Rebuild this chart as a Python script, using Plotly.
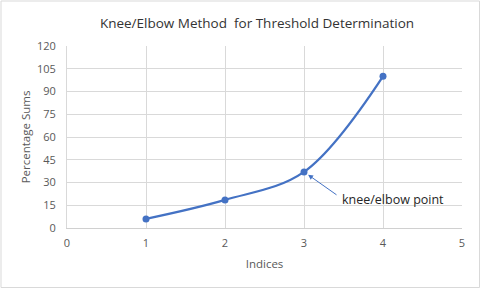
import plotly.graph_objects as go

indices = [1, 2, 3, 4]
percentage_sums = [6, 18.5, 37, 100]
x_ticks = [0, 1, 2, 3, 4, 5]
y_ticks = [0, 15, 30, 45, 60, 75, 90, 105, 120]
knee_index = 3
knee_value = 37

W, H = 481, 289
L, R, T, B = 67, 19, 46, 61
pw, ph = W - L - R, H - T - B

fig = go.Figure()
fig.add_trace(go.Scatter(
    x=indices, y=percentage_sums, mode="lines+markers",
    line=dict(color="#4472C4", width=2.25, shape="spline", smoothing=1.0),
    marker=dict(color="#4472C4", size=7),
    showlegend=False, hoverinfo="skip", cliponaxis=False))

font = "Open Sans, Liberation Sans, sans-serif"
fig.update_layout(
    width=W, height=H,
    margin=dict(l=L, r=R, t=T, b=B, autoexpand=False),
    paper_bgcolor="white", plot_bgcolor="white",
    title=dict(text="Knee/Elbow Method  for Threshold Determination",
               x=257 / W, xanchor="center", y=1 - 23 / H, yanchor="middle",
               font=dict(family=font, size=13.5, color="#333333")),
    font=dict(family=font, size=11, color="#595959"),
    xaxis=dict(range=[0, 5], tickvals=x_ticks, showgrid=True, gridcolor="#D9D9D9",
               gridwidth=1, zeroline=False, showline=True, linecolor="#D0D0D0",
               ticks="", ticklen=0, automargin=False, ticklabelstandoff=5,
               tickfont=dict(size=11, color="#595959"),
               title=dict(text="Indices", font=dict(size=11.5, color="#595959"), standoff=10)),
    yaxis=dict(range=[0, 120], tickvals=y_ticks, showgrid=True, gridcolor="#D9D9D9",
               gridwidth=1, zeroline=False, showline=True, linecolor="#D9D9D9",
               ticks="", automargin=False, ticklabelstandoff=8,
               tickfont=dict(size=11, color="#595959"),
               title=dict(text="Percentage Sums", font=dict(size=11.5, color="#595959"), standoff=3)),
)

# arrow only
fig.add_annotation(
    x=knee_index, y=knee_value, xref="x", yref="y",
    text="", showarrow=True,
    ax=34, ay=24, axref="pixel", ayref="pixel",
    arrowhead=2, arrowsize=1, arrowwidth=1, arrowcolor="#4472C4",
    standoff=5)
# label
fig.add_annotation(
    x=knee_index, y=knee_value, xref="x", yref="y",
    text="knee/elbow point", showarrow=False,
    xshift=89, yshift=-28,
    font=dict(family=font, size=12.5, color="#262626"))

fig.add_shape(type="rect", xref="paper", yref="paper",
              x0=(1 - L) / pw, x1=(W - 1.5 - L) / pw,
              y0=-(H - 1.5 - T - ph) / ph, y1=(ph + T - 1) / ph,
              line=dict(color="#D9D9D9", width=1), layer="below")

fig.write_html("out.html", config={"displayModeBar": False},
               post_script="document.body.style.margin='0';document.body.style.overflow='hidden';")
